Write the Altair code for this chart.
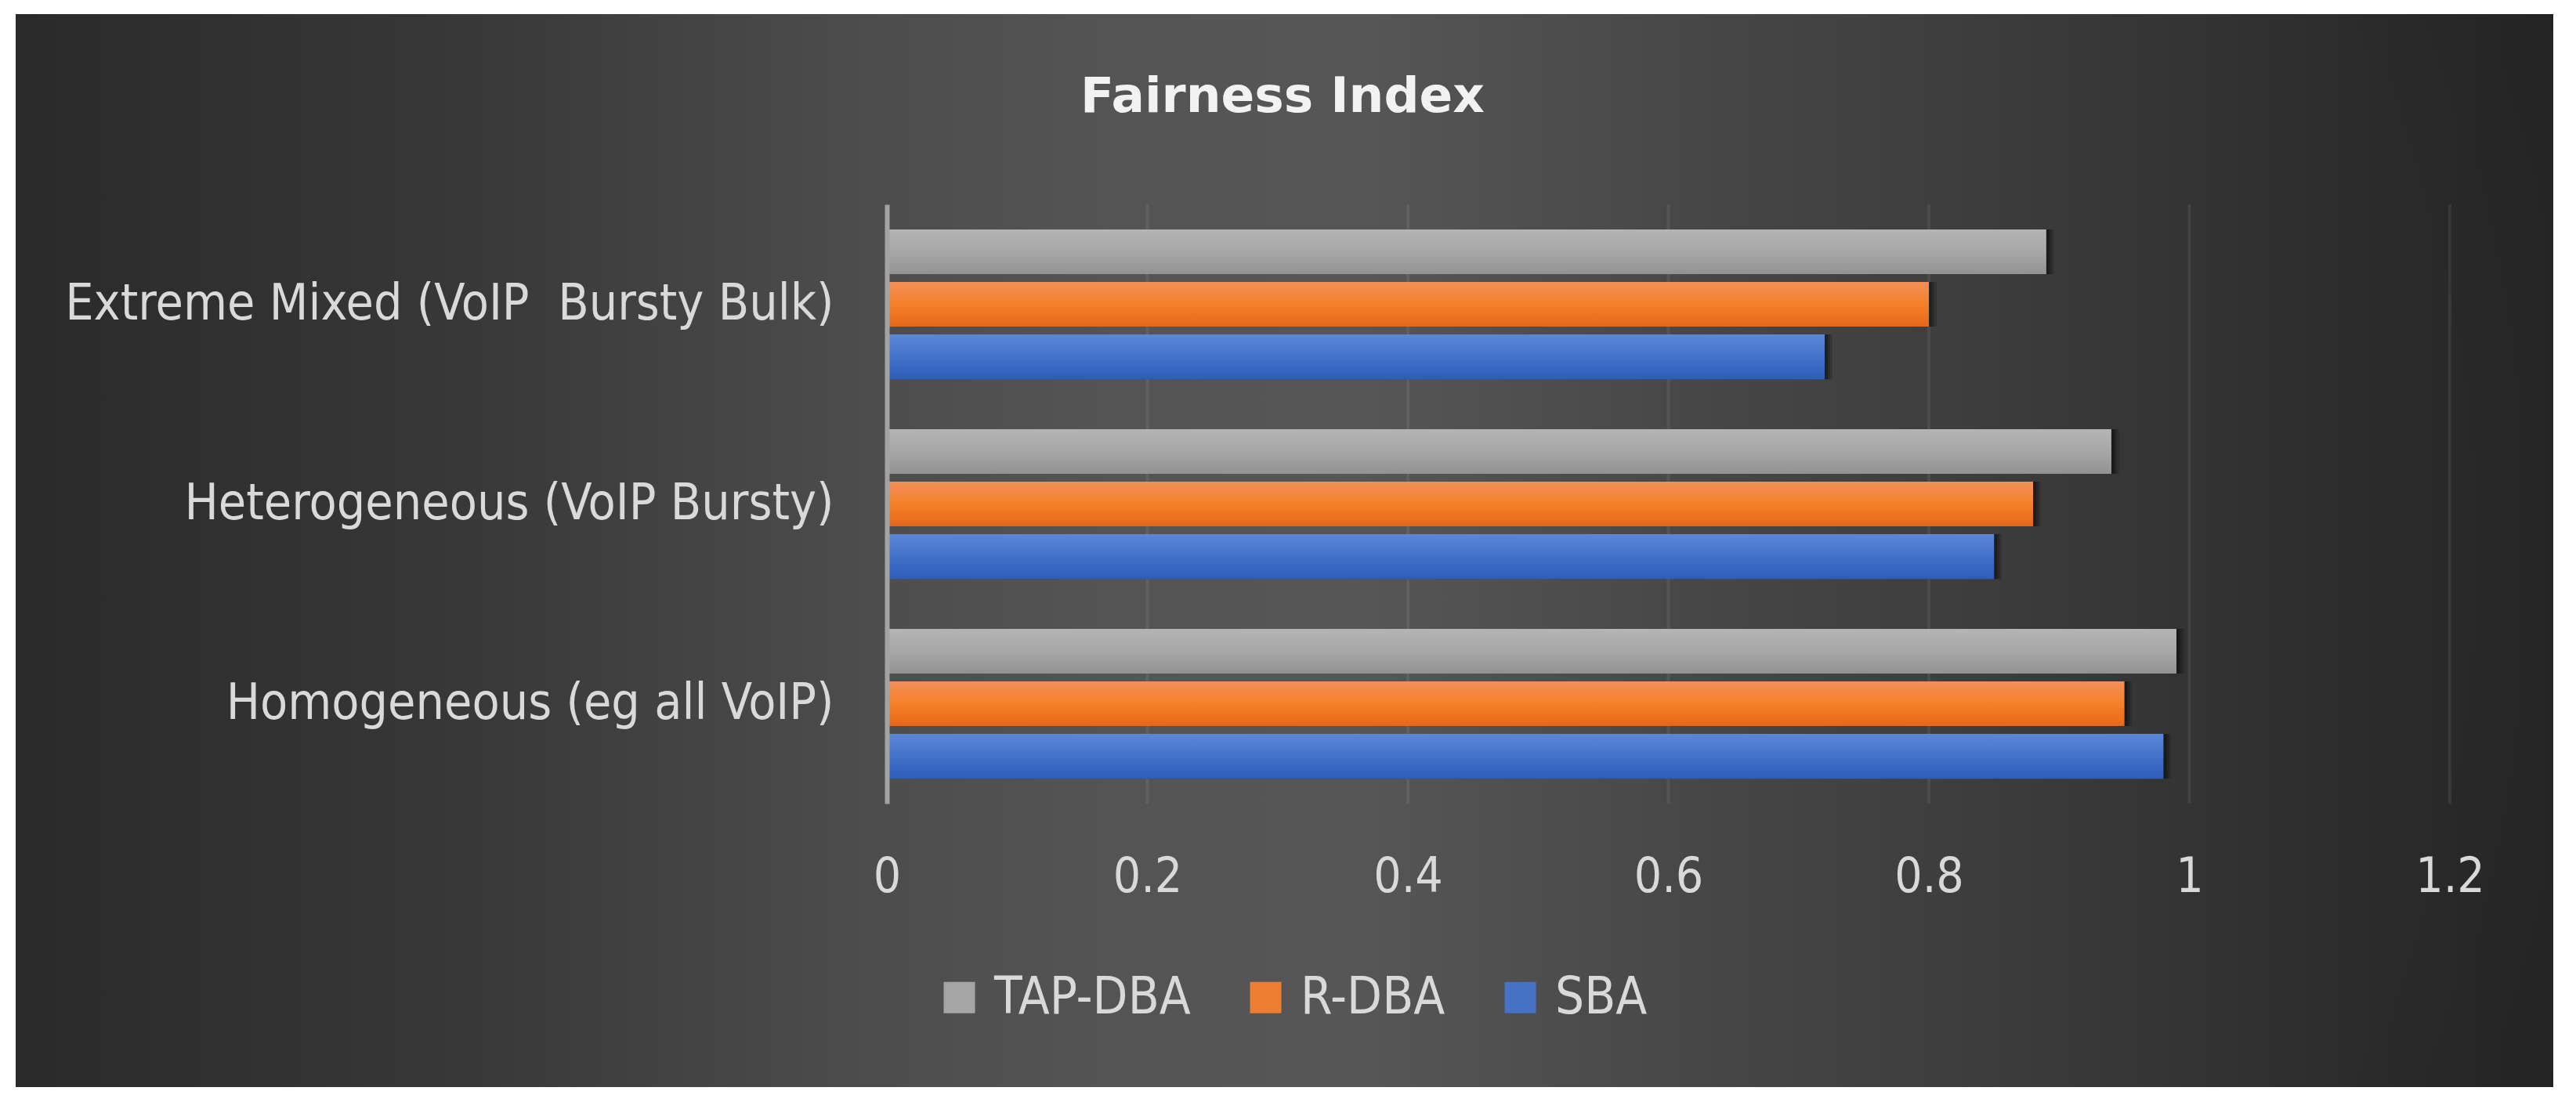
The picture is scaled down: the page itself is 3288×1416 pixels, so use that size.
import altair as alt
import pandas as pd

# ---------------- data ----------------
categories = [
    "Extreme Mixed (VoIP\u00a0 Bursty Bulk)",
    "Heterogeneous (VoIP Bursty)",
    "Homogeneous (eg all VoIP)",
]
series = ["TAP-DBA", "R-DBA", "SBA"]
tap_dba = [0.89, 0.94, 0.99]
r_dba = [0.80, 0.88, 0.95]
sba = [0.72, 0.85, 0.98]
x_ticks = [0, 0.2, 0.4, 0.6, 0.8, 1.0, 1.2]
grid_vals = [0.2, 0.4, 0.6, 0.8, 1.0, 1.2]
title_text = "Fairness Index"

values_by_series = {"TAP-DBA": tap_dba, "R-DBA": r_dba, "SBA": sba}
rows = []
for s in series:
    for c, v in zip(categories, values_by_series[s]):
        rows.append({"category": c, "series": s, "value": v})
df = pd.DataFrame(rows)

# ---------------- layout ----------------
W, H = 1995, 765
PAD = {"left": 1124, "top": 253, "right": 140, "bottom": 370}

LABEL_FONT = "Liberation Sans Narrow, Arial Narrow, DejaVu Sans Condensed, sans-serif"
TXT = "#d9d9d9"


def lin(stops, horizontal=False):
    g = {"gradient": "linear", "x1": 0, "y1": 0,
         "x2": 1 if horizontal else 0, "y2": 0 if horizontal else 1,
         "stops": [{"offset": o, "color": c} for o, c in stops]}
    return g


bar_grad = {
    "TAP-DBA": lin([(0, "#b4b4b4"), (0.5, "#a7a7a7"), (1, "#929292")]),
    "R-DBA": lin([(0, "#f2905a"), (0.5, "#f58029"), (1, "#e5671a")]),
    "SBA": lin([(0, "#5c87d6"), (0.5, "#4372cb"), (1, "#2d5db7")]),
}

bg_grad = lin([
    (0.0, "#2a2a2a"), (0.18, "#383838"), (0.33, "#4c4c4c"), (0.43, "#545454"),
    (0.53, "#565656"), (0.67, "#464646"), (0.77, "#3d3d3d"), (0.86, "#333333"),
    (0.93, "#2b2b2b"), (1.0, "#272727")], horizontal=True)

vignette = {"gradient": "radial", "x1": 0.45, "y1": 0.5, "r1": 0,
            "x2": 0.45, "y2": 0.5, "r2": 0.78,
            "stops": [{"offset": 0, "color": "rgba(0,0,0,0)"},
                      {"offset": 0.65, "color": "rgba(0,0,0,0)"},
                      {"offset": 1, "color": "rgba(0,0,0,0.3)"}]}

x_axis = alt.Axis(values=x_ticks, format="~g", labelFont=LABEL_FONT, labelFontSize=62,
                  labelColor=TXT, labelPadding=112, labelBaseline="alphabetic",
                  labelFlush=False, ticks=False, tickSize=0, domain=False, grid=False,
                  zindex=1, title=None)
y_axis = alt.Axis(labelFont=LABEL_FONT, labelFontSize=64, labelColor=TXT, labelPadding=68,
                  labelLimit=2000, ticks=False, tickSize=0, domain=True,
                  domainColor="#a3a3a3", domainWidth=6, grid=False, zindex=1, title=None)

x_scale = alt.Scale(domain=[0, 1.2], nice=False, zero=True)

one = pd.DataFrame({"a": [0]})

background = alt.Chart(one).mark_rect(color=bg_grad).encode(
    x=alt.value(-1112), x2=alt.value(2127), y=alt.value(-243), y2=alt.value(1127))
vign = alt.Chart(one).mark_rect(color=vignette).encode(
    x=alt.value(-1112), x2=alt.value(2127), y=alt.value(-243), y2=alt.value(1127))

grid = alt.Chart(pd.DataFrame({"v": grid_vals})).mark_rule(
    color="#ffffff", opacity=0.07, strokeWidth=4).encode(
    x=alt.X("v:Q", scale=x_scale, axis=x_axis, title=None))

base = alt.Chart(df).encode(
    x=alt.X("value:Q", scale=x_scale, axis=x_axis, title=None),
    y=alt.Y("category:N", sort=categories,
            scale=alt.Scale(domain=categories, paddingInner=0.25, paddingOuter=0.125),
            axis=y_axis, title=None),
    yOffset=alt.YOffset("series:N", sort=series,
                        scale=alt.Scale(domain=series, paddingInner=0.149, paddingOuter=0)),
)

shadows = [
    base.mark_bar(color="#000000", opacity=0.14, xOffset=10, yOffset=13),
    base.mark_bar(color="#000000", opacity=0.2, xOffset=7, yOffset=9),
    base.mark_bar(color="#000000", opacity=0.26, xOffset=4, yOffset=5),
]

plain = base.mark_bar().encode(
    color=alt.Color("series:N", sort=series,
                    scale=alt.Scale(domain=series, range=["#a5a5a5", "#ed7d31", "#4472c4"]),
                    legend=alt.Legend(orient="none", legendX=60, legendY=980,
                                      direction="horizontal", columns=3, title=None,
                                      symbolType="square", symbolSize=1600,
                                      symbolStrokeWidth=0, symbolOpacity=1,
                                      labelFont=LABEL_FONT, labelFontSize=65,
                                      labelColor=TXT, labelLimit=1000, labelOffset=12,
                                      columnPadding=63, padding=0)))

grad_layers = [
    base.transform_filter(alt.datum.series == s).mark_bar(color=bar_grad[s])
    for s in series
]

title = alt.Chart(pd.DataFrame({"t": [title_text]})).mark_text(
    font="DejaVu Sans", fontSize=63, fontWeight="bold", color="#f2f2f2",
    align="center", baseline="alphabetic").encode(
    text="t:N", x=alt.value(505), y=alt.value(-118))

chart = alt.layer(background, vign, grid, *shadows, plain, *grad_layers, title).properties(
    width=W, height=H, padding=PAD,
    autosize=alt.AutoSizeParams(type="none"),
    background="white",
).configure_view(strokeWidth=0)

chart.save("out.html", embed_options={"renderer": "svg", "actions": False})
